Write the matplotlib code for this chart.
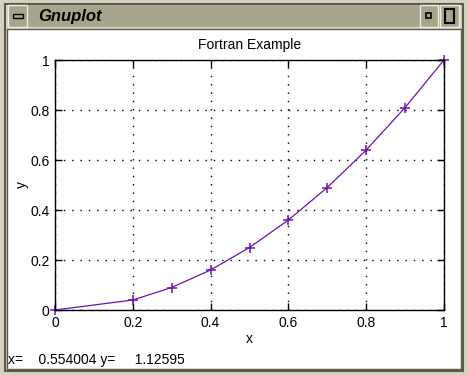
import numpy as np
import matplotlib
matplotlib.use("Agg")
import matplotlib.pyplot as plt
from matplotlib.patches import Rectangle

x_values = [0.0, 0.2, 0.3, 0.4, 0.5, 0.6, 0.7, 0.8, 0.9, 1.0]
y_values = [0.0, 0.04, 0.09, 0.16, 0.25, 0.36, 0.49, 0.64, 0.81, 1.0]
tick_values = [0, 0.2, 0.4, 0.6, 0.8, 1]
tick_labels = ["0", "0.2", "0.4", "0.6", "0.8", "1"]

LINE_COLOR = "#7010b0"
FRAME_LIGHT = "#d6d2c2"
FRAME_DARK = "#5c5a4a"
TITLEBAR = "#a9a58c"

plt.rcParams["font.family"] = ["Liberation Sans", "DejaVu Sans"]

W, H = 468, 375
fig = plt.figure(figsize=(W / 100, H / 100), dpi=100)
fig.patch.set_facecolor(FRAME_LIGHT)


def px_rect(x0, y0, x1, y1, **kw):
    # rectangle in pixel coords (origin top-left), kept behind the axes
    fig.patches.append(Rectangle((x0 / W, 1 - y1 / H), (x1 - x0) / W, (y1 - y0) / H,
                                 transform=fig.transFigure, figure=fig, zorder=-10, **kw))


# window frame
px_rect(5, 4, 463, 371, facecolor="none", edgecolor=FRAME_DARK, linewidth=1.5)
px_rect(7, 29, 461, 369, facecolor="white", edgecolor=FRAME_DARK, linewidth=1)
# title bar
px_rect(8, 5, 460, 27, facecolor=TITLEBAR, edgecolor="none")
px_rect(8, 5, 27, 27, facecolor=TITLEBAR, edgecolor="#f0ece0", linewidth=1)
px_rect(13, 14, 23, 18, facecolor="none", edgecolor="black", linewidth=1)
px_rect(420, 5, 438, 27, facecolor=TITLEBAR, edgecolor="#f0ece0", linewidth=1)
px_rect(426, 13, 431, 18, facecolor="none", edgecolor="black", linewidth=1.2)
px_rect(440, 5, 459, 27, facecolor=TITLEBAR, edgecolor="#f0ece0", linewidth=1)
px_rect(445, 9, 454, 23, facecolor="none", edgecolor="black", linewidth=1.5)
fig.text(38 / W, 1 - 16 / H, "Gnuplot", fontsize=12, fontweight="bold", fontstyle="italic",
         ha="left", va="center")

ax = fig.add_axes([55 / W, 1 - 310 / H, (444 - 55) / W, 250 / H])
ax.set_facecolor("white")
ax.plot(x_values, y_values, color=LINE_COLOR, linewidth=0.9, marker="+", markersize=6.5,
        markeredgewidth=1.1, clip_on=False)
ax.set_xlim(0, 1)
ax.set_ylim(0, 1)
ax.set_xticks(tick_values)
ax.set_xticklabels(tick_labels)
ax.set_yticks(tick_values)
ax.set_yticklabels(tick_labels)
ax.tick_params(direction="in", length=5, width=1, top=True, right=True, labelsize=10, pad=4)
ax.grid(True, color="black", linestyle=(0, (1, 5)), linewidth=1)
for s in ax.spines.values():
    s.set_linewidth(1)
ax.set_title("Fortran Example", fontsize=10, pad=8)
ax.set_xlabel("x", fontsize=10, labelpad=2)
ax.set_ylabel("y", fontsize=10, labelpad=1)

fig.text(8 / W, 1 - 360 / H, "x=    0.554004 y=     1.12595", fontsize=10, ha="left", va="center")

fig.savefig("out.png", dpi=100, facecolor=fig.get_facecolor())
